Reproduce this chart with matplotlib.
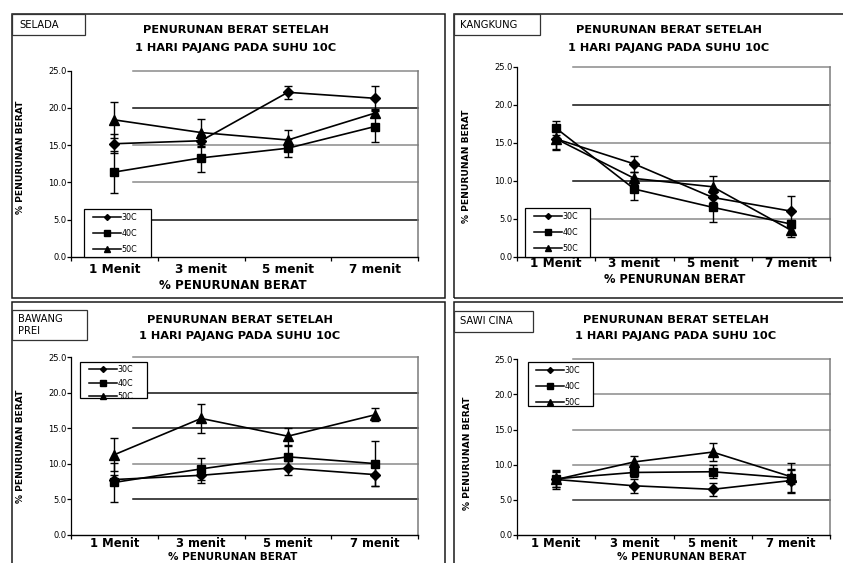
import matplotlib
matplotlib.use('Agg')
import matplotlib.pyplot as plt
from matplotlib.patches import Rectangle
from matplotlib.lines import Line2D

W, H = 843, 563

# ---------------- data ----------------
categories = ['1 Menit', '3 menit', '5 menit', '7 menit']
series_names = ['30C', '40C', '50C']
y_ticks = [0, 5, 10, 15, 20, 25]
panel_names = ['SELADA', 'KANGKUNG', 'BAWANG\nPREI', 'SAWI CINA']
title_line1 = 'PENURUNAN BERAT SETELAH'
title_line2 = '1 HARI PAJANG PADA SUHU 10C'
x_title = '% PENURUNAN BERAT'
y_title = '% PENURUNAN BERAT'

selada_30 = [15.2, 15.6, 22.1, 21.3]
selada_30_err = [1.3, 0.8, 0.9, 1.6]
selada_40 = [11.4, 13.3, 14.6, 17.5]
selada_40_err = [2.8, 1.9, 1.2, 2.1]
selada_50 = [18.4, 16.7, 15.7, 19.3]
selada_50_err = [2.4, 1.8, 1.3, 0.5]

kangkung_30 = [15.5, 12.2, 7.8, 6.0]
kangkung_30_err = [1.4, 1.1, 0.6, 2.0]
kangkung_40 = [16.9, 8.9, 6.5, 4.3]
kangkung_40_err = [0.9, 1.5, 1.9, 0.5]
kangkung_50 = [15.5, 10.3, 9.2, 3.5]
kangkung_50_err = [1.3, 0.8, 1.4, 0.9]

bawang_30 = [7.8, 8.4, 9.4, 8.5]
bawang_30_err = [0.6, 1.05, 0.95, 1.55]
bawang_40 = [7.4, 9.3, 11.0, 10.05]
bawang_40_err = [2.7, 1.5, 1.5, 3.2]
bawang_50 = [11.3, 16.4, 13.9, 16.9]
bawang_50_err = [2.3, 2.0, 1.2, 0.9]

sawi_30 = [7.9, 7.0, 6.5, 7.75]
sawi_30_err = [1.1, 1.0, 0.9, 1.6]
sawi_40 = [8.0, 8.9, 9.0, 8.1]
sawi_40_err = [1.1, 0.7, 0.9, 2.1]
sawi_50 = [7.9, 10.4, 11.8, 8.3]
sawi_50_err = [1.3, 0.9, 1.3, 1.0]

panel_data = [
    ([selada_30, selada_40, selada_50], [selada_30_err, selada_40_err, selada_50_err]),
    ([kangkung_30, kangkung_40, kangkung_50], [kangkung_30_err, kangkung_40_err, kangkung_50_err]),
    ([bawang_30, bawang_40, bawang_50], [bawang_30_err, bawang_40_err, bawang_50_err]),
    ([sawi_30, sawi_40, sawi_50], [sawi_30_err, sawi_40_err, sawi_50_err]),
]

# ---------------- layout (pixels) ----------------
PT = 0.72  # points per pixel at dpi 100
# grid colours listed bottom-up: 5, 10, 15, 20, 25
# xlab = (center x, baseline y, fontsize)
layout = [
    dict(ax=(71, 418, 257, 70.7), frame=(12, 14, 445, 298), box=(12, 14, 85, 35), label_xy=(19, 24.5),
         title=(236, 29, 47), ylab=(25, 157), xlab=(233, 289.3, 8.6), xpad=4.5, xfs=8.7,
         legbox=(84, 209, 151, 257), leg_anchor=(90, 210), leg_ls=0.85,
         grid=['#111111', '#8a8a8a', '#8a8a8a', '#111111', '#8a8a8a']),
    dict(ax=(517, 830, 256.7, 66.7), frame=(454, 14, 860, 298), box=(454, 14, 540, 35), label_xy=(460, 24.5),
         title=(669, 29, 47), ylab=(471, 166), xlab=(675, 283.2, 8.3), xpad=0.0, xfs=8.7,
         legbox=(525, 208, 590, 257), leg_anchor=(531, 209), leg_ls=0.85,
         grid=['#8a8a8a', '#111111', '#8a8a8a', '#111111', '#8a8a8a']),
    dict(ax=(71, 418, 535, 357.3), frame=(12, 302, 445, 620), box=(12, 310, 87, 340), label_xy=(18, 325),
         title=(240, 319, 335), ylab=(25, 446), xlab=(233, 560.3, 7.5), xpad=1.2, xfs=8.4,
         legbox=(80, 362, 147, 398), leg_anchor=(86, 362), leg_ls=0.55,
         grid=['#111111', '#8a8a8a', '#111111', '#111111', '#8a8a8a']),
    dict(ax=(517, 830, 535, 359.3), frame=(454, 302, 860, 620), box=(454, 311, 533, 332), label_xy=(460, 321.5),
         title=(676, 319, 335), ylab=(472, 453), xlab=(682, 560.3, 7.5), xpad=1.4, xfs=8.4,
         legbox=(528, 362, 593, 406), leg_anchor=(533, 363), leg_ls=0.85,
         grid=['#333333', '#8a8a8a', '#8a8a8a', '#8a8a8a', '#8a8a8a']),
]

markers = ['D', 's', '^']
msizes = [4.6, 6.0, 6.6]
leg_msizes = [3.0, 3.8, 4.2]

plt.rcParams['font.family'] = ['DejaVu Sans']

fig = plt.figure(figsize=(W / 100, H / 100), dpi=100)
fig.patch.set_facecolor('white')


def fx(px):
    return px / W


def fy(py):
    return 1 - py / H


def frect(x0, y0, x1, y1, **kw):
    return Rectangle((fx(x0), fy(y1)), (x1 - x0) / W, (y1 - y0) / H,
                     transform=fig.transFigure, **kw)


TITLE_FS = 8.2
CAP = 0.729

for p, (vals, errs), name in zip(layout, panel_data, panel_names):
    x0, x1, y0, y25 = p['ax']
    ax = fig.add_axes([fx(x0), fy(y0), (x1 - x0) / W, (y0 - y25) / H])
    ax.set_facecolor('none')
    xs = list(range(len(categories)))
    for i, (v, e) in enumerate(zip(vals, errs)):
        ax.errorbar(xs, v, yerr=e, color='black', lw=1.2, elinewidth=1.0,
                    capsize=2.6, capthick=1.0, marker=markers[i], ms=msizes[i],
                    mfc='black', mec='black', zorder=3)
    ax.set_xlim(-0.5, len(categories) - 0.5)
    ax.set_ylim(0, 25)
    for yv, c in zip(y_ticks[1:], p['grid']):
        ax.axhline(yv, xmin=0.18, xmax=1.0, color=c, lw=1.1, zorder=1, clip_on=False)
    ax.set_yticks(y_ticks)
    ax.set_yticklabels(['%.1f' % t for t in y_ticks], fontsize=6)
    ax.tick_params(axis='y', length=2.6, width=0.9, pad=0.8, direction='out')
    ax.set_xticks(xs)
    ax.set_xticklabels(categories, fontsize=p['xfs'], fontweight='bold')
    ax.set_xticks([k + 0.5 for k in range(-1, len(categories))], minor=True)
    ax.tick_params(axis='x', which='major', length=0, pad=p['xpad'])
    ax.tick_params(axis='x', which='minor', length=3, width=0.9, direction='out')
    ax.spines['top'].set_visible(False)
    ax.spines['right'].set_color('#7a7a7a')
    ax.spines['right'].set_linewidth(1.1)
    ax.spines['left'].set_linewidth(0.9)
    ax.spines['bottom'].set_linewidth(1.0)

    # legend box + legend
    lx0, ly0, lx1, ly1 = p['legbox']
    ax.add_patch(Rectangle((fx(lx0), fy(ly1)), (lx1 - lx0) / W, (ly1 - ly0) / H,
                           transform=fig.transFigure, facecolor='white',
                           edgecolor='black', lw=0.9, zorder=6, clip_on=False))
    handles = [Line2D([], [], color='black', lw=1.1, marker=markers[i], ms=leg_msizes[i],
                      mfc='black', mec='black') for i in range(len(series_names))]
    leg = ax.legend(handles, series_names, loc='upper left',
                    bbox_to_anchor=(fx(p['leg_anchor'][0]), fy(p['leg_anchor'][1])),
                    bbox_transform=fig.transFigure, frameon=False, fontsize=5.8,
                    borderaxespad=0, borderpad=0.4, handlelength=3.4, handletextpad=0.15,
                    labelspacing=p['leg_ls'])
    leg.set_zorder(7)

    # y axis title
    ax.set_ylabel(y_title, fontsize=6.6, fontweight='bold')
    ax.yaxis.set_label_coords(fx(p['ylab'][0]), fy(p['ylab'][1]), transform=fig.transFigure)
    # x axis title
    xl_x, xl_base, xl_fs = p['xlab']
    fig.text(fx(xl_x), fy(xl_base), x_title, fontsize=xl_fs,
             fontweight='bold', ha='center', va='baseline')

    # titles
    tx, t1, t2 = p['title']
    for line, ty in [(title_line1, t1), (title_line2, t2)]:
        fig.text(fx(tx), fy(ty + CAP * TITLE_FS / PT / 2), line, fontsize=TITLE_FS,
                 fontweight='bold', ha='center', va='baseline')

    # panel frame
    fx0, fy0, fx1, fy1 = p['frame']
    fig.patches.append(frect(fx0, fy0, fx1, fy1, fill=False, edgecolor='#1a1a1a', lw=1.1))
    # name box
    bx0, by0, bx1, by1 = p['box']
    fig.patches.append(frect(bx0, by0, bx1, by1, facecolor='white', edgecolor='#333333', lw=0.9))
    fig.text(fx(p['label_xy'][0]), fy(p['label_xy'][1]), name, fontsize=7.2,
             ha='left', va='center', linespacing=1.25)

fig.savefig('out.png', dpi=100, facecolor='white')
